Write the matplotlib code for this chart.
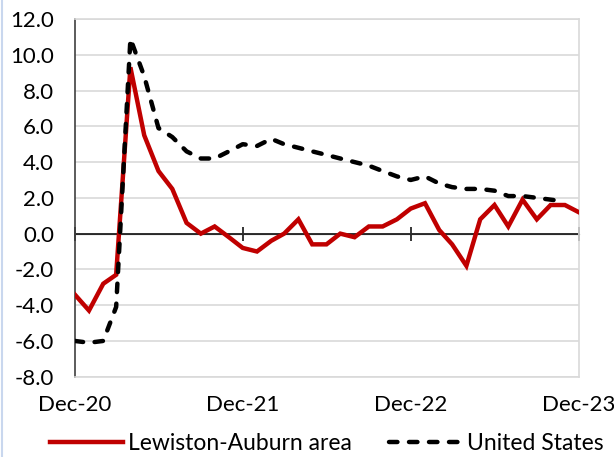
import numpy as np
import pandas as pd
import matplotlib
matplotlib.use("Agg")
import matplotlib.pyplot as plt
import matplotlib.dates as mdates
from matplotlib.lines import Line2D

plt.rcParams['font.family'] = ['Lato', 'DejaVu Sans']

# monthly, Dec-20 .. Dec-23 (percent change over the year)
months = pd.date_range("2020-12-01", "2023-12-01", freq="MS")
lewiston_auburn = [-3.4, -4.3, -2.8, -2.3, 9.3, 5.5, 3.5, 2.5, 0.6, 0.0, 0.4, -0.2,
                   -0.8, -1.0, -0.4, 0.0, 0.8, -0.6, -0.6, 0.0, -0.2, 0.4, 0.4, 0.8,
                   1.4, 1.7, 0.2, -0.6, -1.8, 0.8, 1.6, 0.4, 1.9, 0.8, 1.6, 1.6, 1.2]
united_states = [-6.0, -6.1, -6.0, -4.1, 10.9, 8.8, 5.9, 5.4, 4.6, 4.2, 4.2, 4.6,
                 5.0, 4.9, 5.3, 5.0, 4.8, 4.6, 4.4, 4.2, 4.0, 3.8, 3.5, 3.2,
                 3.0, 3.2, 2.8, 2.6, 2.5, 2.5, 2.4, 2.1, 2.1, 2.0, 1.9, 1.8]
tick_months = ["2020-12-01", "2021-12-01", "2022-12-01", "2023-12-01"]
y_ticks = np.arange(-8, 13, 2)

fig = plt.figure(figsize=(6.14, 4.57), dpi=100)
ax = fig.add_axes([0.1217, 0.1757, 0.8208, 0.7827])

ax.plot(months, lewiston_auburn, color="#C00000", lw=3.2, zorder=3,
        solid_joinstyle="miter", label="Lewiston-Auburn area")
ax.plot(months[:len(united_states)], united_states, color="black", lw=3.2, zorder=3,
        dashes=(1.9, 2.6), dash_capstyle="round", label="United States")

ax.set_ylim(-8, 12)
ax.set_yticks(y_ticks)
ax.yaxis.set_major_formatter(plt.FormatStrFormatter("%.1f"))
ax.set_xlim(months[0], months[-1])
ax.set_xticks(pd.to_datetime(tick_months))
ax.xaxis.set_major_formatter(mdates.DateFormatter("%b-%y"))

ax.grid(axis="y", color="#D9D9D9", lw=1.2, zorder=0)
ax.set_axisbelow(True)
for side in ["top", "right", "bottom"]:
    ax.spines[side].set_color("#D9D9D9")
    ax.spines[side].set_linewidth(1.2)
ax.spines["left"].set_color("#404040")
ax.spines["left"].set_linewidth(1.2)
ax.tick_params(axis="y", length=0, pad=15, labelsize=16, labelcolor="black")
ax.tick_params(axis="x", length=0, pad=13, labelsize=16, labelcolor="black")

# the category axis crosses at zero
ax.axhline(0, color="black", lw=1.1, zorder=2)
zero = (0 - ax.get_ylim()[0]) / (ax.get_ylim()[1] - ax.get_ylim()[0])
sec = ax.secondary_xaxis(zero)
sec.set_xticks(pd.to_datetime(tick_months))
sec.tick_params(direction="inout", length=10.5, width=1.1, color="black",
                labelbottom=False, labeltop=False)
sec.spines["bottom"].set_color("black")
sec.spines["top"].set_color("black")

ax.legend(loc="center", bbox_to_anchor=(0.5, -0.188), ncol=2, frameon=False,
          fontsize=16.5, handlelength=3.2, handletextpad=0.22, columnspacing=1.6,
          borderpad=0.2)

fig.add_artist(Line2D([0.003, 0.003], [0, 1], color="#C9D7EE", lw=1.5))

fig.savefig("out.png", dpi=100)
